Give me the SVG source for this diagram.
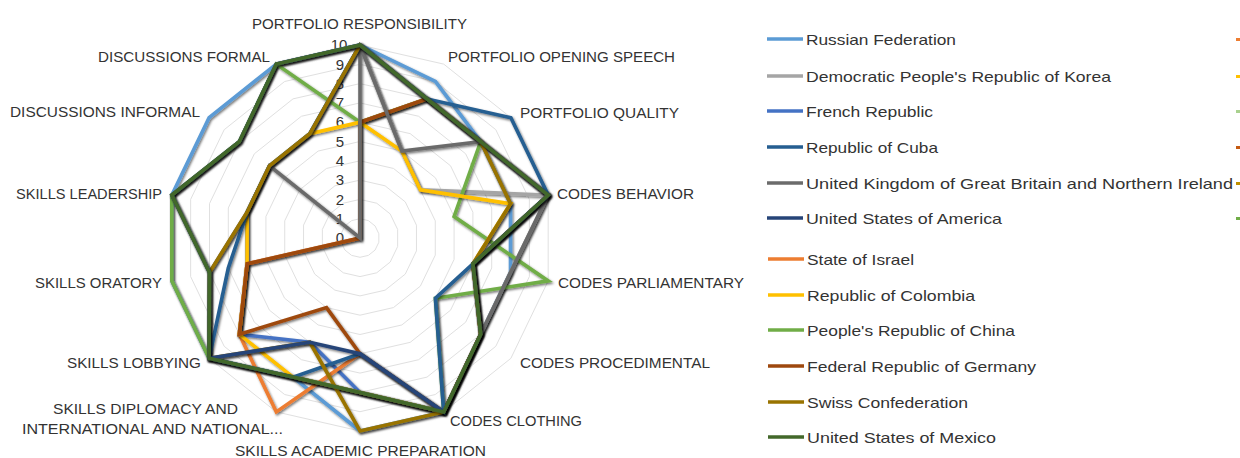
<svg xmlns="http://www.w3.org/2000/svg" xmlns:xlink="http://www.w3.org/1999/xlink" width="1240" height="458" viewBox="0 0 1240 458">
<style>
.lbl{font-family:"Liberation Sans",Arial,sans-serif;font-size:15px;fill:#333}
.tick{font-family:"Liberation Sans",Arial,sans-serif;font-size:15px;fill:#333;text-anchor:middle}
.leg{font-family:"Liberation Sans",Arial,sans-serif;font-size:15px;fill:#333}
.s{fill:none;stroke-width:3.6;stroke-linejoin:miter;filter:url(#sh)}
.lg{stroke-width:3.5}
</style>
<defs>
<filter id="sh" x="-10%" y="-10%" width="120%" height="120%">
<feDropShadow dx="1.2" dy="1.5" stdDeviation="1" flood-color="#000" flood-opacity="0.55"/>
</filter>
<polygon id="ring" points="0,-19.3 8.374,-17.389 15.089,-12.034 18.816,-4.294 18.816,4.294 15.089,12.034 8.374,17.389 0,19.3 -8.374,17.389 -15.089,12.034 -18.816,4.294 -18.816,-4.294 -15.089,-12.034 -8.374,-17.389" fill="none" stroke="#e0e0e0" stroke-width="1" vector-effect="non-scaling-stroke"/>
</defs>
<rect width="1240" height="458" fill="#fff"/>
<g id="grid">
<use xlink:href="#ring" transform="translate(360 238) scale(1)"/>
<use xlink:href="#ring" transform="translate(360 238) scale(2)"/>
<use xlink:href="#ring" transform="translate(360 238) scale(3)"/>
<use xlink:href="#ring" transform="translate(360 238) scale(4)"/>
<use xlink:href="#ring" transform="translate(360 238) scale(5)"/>
<use xlink:href="#ring" transform="translate(360 238) scale(6)"/>
<use xlink:href="#ring" transform="translate(360 238) scale(7)"/>
<use xlink:href="#ring" transform="translate(360 238) scale(8)"/>
<use xlink:href="#ring" transform="translate(360 238) scale(9)"/>
<use xlink:href="#ring" transform="translate(360 238) scale(10)"/>
</g>
<g id="ticks">
<text class="tick" x="340" y="243">0</text>
<text class="tick" x="340" y="224">1</text>
<text class="tick" x="340" y="205">2</text>
<text class="tick" x="340" y="185">3</text>
<text class="tick" x="340" y="166">4</text>
<text class="tick" x="340" y="147">5</text>
<text class="tick" x="340" y="127">6</text>
<text class="tick" x="340" y="108">7</text>
<text class="tick" x="340" y="89">8</text>
<text class="tick" x="340" y="70">9</text>
<text class="tick" x="339" y="50">10</text>
</g>
<g id="axis-labels">
<text class="lbl" x="252" y="29" textLength="215" lengthAdjust="spacingAndGlyphs">PORTFOLIO RESPONSIBILITY</text>
<text class="lbl" x="448" y="62" textLength="227" lengthAdjust="spacingAndGlyphs">PORTFOLIO OPENING SPEECH</text>
<text class="lbl" x="520" y="118" textLength="159" lengthAdjust="spacingAndGlyphs">PORTFOLIO QUALITY</text>
<text class="lbl" x="557" y="199" textLength="137" lengthAdjust="spacingAndGlyphs">CODES BEHAVIOR</text>
<text class="lbl" x="558" y="288" textLength="186" lengthAdjust="spacingAndGlyphs">CODES PARLIAMENTARY</text>
<text class="lbl" x="520" y="368" textLength="190" lengthAdjust="spacingAndGlyphs">CODES PROCEDIMENTAL</text>
<text class="lbl" x="450" y="426" textLength="132" lengthAdjust="spacingAndGlyphs">CODES CLOTHING</text>
<text class="lbl" x="235" y="456" textLength="251" lengthAdjust="spacingAndGlyphs">SKILLS ACADEMIC PREPARATION</text>
<text class="lbl" x="53" y="414" textLength="185" lengthAdjust="spacingAndGlyphs">SKILLS DIPLOMACY AND</text>
<text class="lbl" x="22" y="434" textLength="261" lengthAdjust="spacingAndGlyphs">INTERNATIONAL AND NATIONAL...</text>
<text class="lbl" x="67" y="368" textLength="134" lengthAdjust="spacingAndGlyphs">SKILLS LOBBYING</text>
<text class="lbl" x="35" y="288" textLength="127" lengthAdjust="spacingAndGlyphs">SKILLS ORATORY</text>
<text class="lbl" x="16" y="199" textLength="146" lengthAdjust="spacingAndGlyphs">SKILLS LEADERSHIP</text>
<text class="lbl" x="10" y="117" textLength="190" lengthAdjust="spacingAndGlyphs">DISCUSSIONS INFORMAL</text>
<text class="lbl" x="98" y="62" textLength="172" lengthAdjust="spacingAndGlyphs">DISCUSSIONS FORMAL</text>
</g>
<g id="connectors">
<polygon id="russia" class="s" stroke="#5b9bd5" points="360,45 435.4,81.5 480.7,141.7 510.5,203.6 510.5,272.4 480.7,334.3 443.7,411.9 360,431 293,377.1 209.1,358.3 171.8,280.9 171.8,195.1 209.1,117.7 276.3,64.1"/>
<polygon id="dprk" class="s" stroke="#a5a5a5" points="360,45 401.9,151.1 420.4,189.9 548.2,195.1 510.5,272.4 480.7,334.3 443.7,411.9 360,392.4 293,377.1 209.1,358.3 209.5,272.4 171.8,195.1 239.3,141.7 276.3,64.1"/>
<polygon id="france" class="s" stroke="#4472c4" points="360,45 427,98.9 480.7,141.7 548.2,195.1 472.9,263.8 480.7,334.3 443.7,411.9 360,392.4 309.8,342.3 239.3,334.3 247.1,263.8 247.1,212.2 269.5,165.8 309.8,133.7"/>
<polygon id="israel" class="s" stroke="#ed7d31" points="360,122.2 427,98.9 480.7,141.7 548.2,195.1 472.9,263.8 480.7,334.3 443.7,411.9 360,353.8 276.3,411.9 239.3,334.3 247.1,263.8 360,238 360,238 360,238"/>
<polygon id="china" class="s" stroke="#70ad47" points="360,122.2 427,98.9 480.7,141.7 454.1,216.5 548.2,280.9 435.4,298.2 443.7,411.9 360,392.4 293,377.1 209.1,358.3 171.8,280.9 171.8,195.1 239.3,141.7 276.3,64.1"/>
<polygon id="colombia" class="s" stroke="#ffc000" points="360,122.2 401.9,151.1 420.4,189.9 510.5,203.6 472.9,263.8 480.7,334.3 443.7,411.9 360,392.4 293,377.1 239.3,334.3 247.1,263.8 247.1,212.2 269.5,165.8 309.8,133.7"/>
<polygon id="germany" class="s" stroke="#9e480e" points="360,122.2 427,98.9 480.7,141.7 548.2,195.1 472.9,263.8 480.7,334.3 443.7,411.9 360,353.8 326.5,307.6 239.3,334.3 247.1,263.8 360,238 360,238 360,238"/>
<polygon id="uk" class="s" stroke="#6b6b6b" points="360,45 401.9,151.1 480.7,141.7 548.2,195.1 510.5,272.4 480.7,334.3 443.7,411.9 360,392.4 293,377.1 209.1,358.3 209.5,272.4 247.1,212.2 269.5,165.8 360,238"/>
<polygon id="cuba" class="s" stroke="#255e91" points="360,45 427,98.9 510.9,117.7 548.2,195.1 472.9,263.8 435.4,298.2 443.7,411.9 360,353.8 293,377.1 209.1,358.3 228.3,268.1 247.1,212.2 269.5,165.8 309.8,133.7"/>
<polygon id="swiss" class="s" stroke="#997300" points="360,45 427,98.9 480.7,141.7 510.5,203.6 472.9,263.8 480.7,334.3 443.7,411.9 360,431 309.8,342.3 209.1,358.3 209.5,272.4 247.1,212.2 269.5,165.8 309.8,133.7"/>
<polygon id="usa" class="s" stroke="#264478" points="360,45 427,98.9 480.7,141.7 548.2,195.1 472.9,263.8 480.7,334.3 443.7,411.9 360,353.8 309.8,342.3 209.1,358.3 209.5,272.4 171.8,195.1 239.3,141.7 276.3,64.1"/>
<polygon id="mexico" class="s" stroke="#43682b" points="360,45 427,98.9 480.7,141.7 548.2,195.1 472.9,263.8 480.7,334.3 443.7,411.9 360,392.4 293,377.1 209.1,358.3 209.5,272.4 171.8,195.1 239.3,141.7 276.3,64.1"/>
</g>
<g id="legend">
<g id="leg-russia"><line class="lg" x1="767" y1="39" x2="803" y2="39" stroke="#5b9bd5"/><text class="leg" x="806" y="45" textLength="150" lengthAdjust="spacingAndGlyphs">Russian Federation</text></g>
<g id="leg-dprk"><line class="lg" x1="767" y1="76" x2="803" y2="76" stroke="#a5a5a5"/><text class="leg" x="806" y="82" textLength="305" lengthAdjust="spacingAndGlyphs">Democratic People's Republic of Korea</text></g>
<g id="leg-france"><line class="lg" x1="767" y1="111" x2="803" y2="111" stroke="#4472c4"/><text class="leg" x="806" y="117" textLength="127" lengthAdjust="spacingAndGlyphs">French Republic</text></g>
<g id="leg-cuba"><line class="lg" x1="767" y1="147" x2="803" y2="147" stroke="#255e91"/><text class="leg" x="806" y="153" textLength="132" lengthAdjust="spacingAndGlyphs">Republic of Cuba</text></g>
<g id="leg-uk"><line class="lg" x1="767" y1="183" x2="803" y2="183" stroke="#6b6b6b"/><text class="leg" x="806" y="189" textLength="427" lengthAdjust="spacingAndGlyphs">United Kingdom of Great Britain and Northern Ireland</text></g>
<g id="leg-usa"><line class="lg" x1="767" y1="218" x2="803" y2="218" stroke="#264478"/><text class="leg" x="806" y="224" textLength="196" lengthAdjust="spacingAndGlyphs">United States of America</text></g>
<g id="leg-israel"><line class="lg" x1="768" y1="259" x2="804" y2="259" stroke="#ed7d31"/><text class="leg" x="807" y="265" textLength="107" lengthAdjust="spacingAndGlyphs">State of Israel</text></g>
<g id="leg-colombia"><line class="lg" x1="768" y1="295" x2="804" y2="295" stroke="#ffc000"/><text class="leg" x="807" y="301" textLength="168" lengthAdjust="spacingAndGlyphs">Republic of Colombia</text></g>
<g id="leg-china"><line class="lg" x1="768" y1="330" x2="804" y2="330" stroke="#70ad47"/><text class="leg" x="807" y="336" textLength="208" lengthAdjust="spacingAndGlyphs">People's Republic of China</text></g>
<g id="leg-germany"><line class="lg" x1="768" y1="366" x2="804" y2="366" stroke="#9e480e"/><text class="leg" x="807" y="372" textLength="229" lengthAdjust="spacingAndGlyphs">Federal Republic of Germany</text></g>
<g id="leg-swiss"><line class="lg" x1="768" y1="402" x2="804" y2="402" stroke="#997300"/><text class="leg" x="807" y="408" textLength="161" lengthAdjust="spacingAndGlyphs">Swiss Confederation</text></g>
<g id="leg-mexico"><line class="lg" x1="768" y1="437" x2="804" y2="437" stroke="#43682b"/><text class="leg" x="807" y="443" textLength="189" lengthAdjust="spacingAndGlyphs">United States of Mexico</text></g>
<g id="leg-edge">
<rect x="1236" y="38" width="4" height="3" fill="#ed7d31"/>
<rect x="1236" y="75" width="4" height="3" fill="#ffc000"/>
<rect x="1236" y="110" width="4" height="3" fill="#a9d18e"/>
<rect x="1236" y="146" width="4" height="3" fill="#c55a11"/>
<rect x="1236" y="182" width="4" height="3" fill="#bf9000"/>
<rect x="1236" y="217" width="4" height="3" fill="#70ad47"/>
</g>
</g>
</svg>
